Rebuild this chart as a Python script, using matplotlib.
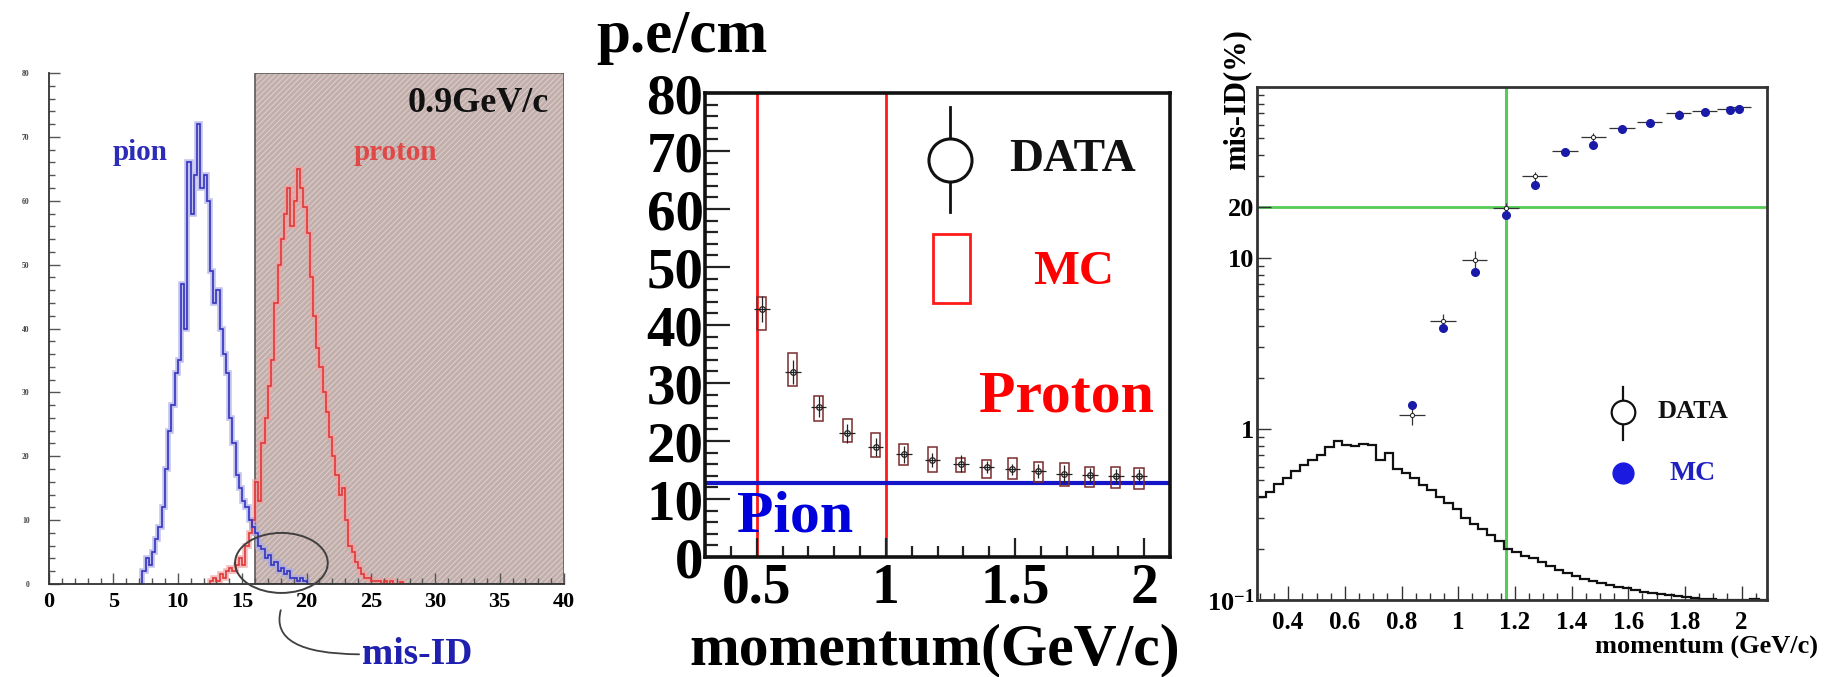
import numpy as np
import matplotlib
matplotlib.use('Agg')
from matplotlib import pyplot as plt
from matplotlib.patches import Ellipse
from matplotlib.ticker import MultipleLocator, FixedLocator, FuncFormatter, LogLocator, NullFormatter

plt.rcParams['font.family'] = ['Liberation Serif', 'DejaVu Serif']
plt.rcParams['font.weight'] = 'bold'
plt.rcParams['mathtext.fontset'] = 'custom'
plt.rcParams['mathtext.rm'] = 'Liberation Serif:bold'
plt.rcParams['mathtext.bf'] = 'Liberation Serif:bold'
plt.rcParams['hatch.linewidth'] = 0.7

# ---- left: photo-electron spectra at 0.9 GeV/c
pe_bin = 0.25
pion_start = 7.25
pion_counts = [2, 4, 3, 5, 7, 9, 12, 18, 24, 28,
               33, 35, 47, 40, 66, 58, 64, 72, 62, 64,
               60, 49, 44, 46, 40, 36, 33, 26, 22, 17,
               15, 13, 12, 10, 9, 8, 6, 5.5, 4, 4.5,
               3, 3.5, 2, 2.5, 1.5, 2, 1, 1, 0.5, 1,
               0.5, 0]
proton_start = 12.5
proton_counts = [0.5, 1, 0.5, 1.5, 1, 2, 2.5, 2, 3, 4,
                 3, 6, 8, 10, 16, 13, 22, 26, 31, 35,
                 44, 50, 54, 58, 62, 56, 60, 65, 62, 59,
                 55, 48, 42, 37, 34, 30, 27, 23, 20, 17,
                 14, 15, 10, 6, 5, 3.5, 2.5, 1.5, 1, 1,
                 0.5, 0.5, 0.5, 0, 0.5, 0, 0.5, 0, 0, 0.3]
pe_cut = 16

# ---- middle: light yield vs momentum
mom = [0.52, 0.64, 0.74, 0.85, 0.96, 1.07, 1.18, 1.29, 1.39, 1.49, 1.59, 1.69, 1.79, 1.89, 1.98]
data_pe = [42.8, 31.9, 25.9, 21.3, 19.0, 17.7, 16.8, 16.1, 15.5, 15.1, 14.8, 14.3, 14.1, 14.0, 13.9]
data_pe_err = [2.2, 2.0, 1.8, 1.6, 1.5, 1.5, 1.2, 1.5, 1.0, 1.0, 1.2, 1.5, 1.2, 1.2, 1.2]
mc_pe = [42.0, 32.3, 25.6, 21.8, 19.3, 17.6, 16.8, 15.8, 15.2, 15.2, 14.6, 14.2, 13.8, 13.7, 13.6]
mc_pe_err = [2.8, 2.9, 2.2, 2.0, 2.0, 1.8, 2.1, 1.2, 1.6, 1.8, 1.7, 2.0, 1.7, 1.8, 1.8]
pion_level = 12.7
mom_window = [0.5, 1.0]

# ---- right: mis-ID rate vs momentum
mis_mom = [0.837, 0.947, 1.058, 1.168, 1.270, 1.377, 1.477, 1.579, 1.676, 1.778, 1.870, 1.960, 1.990]
mis_mc = [1.38, 3.88, 8.3, 17.9, 26.9, 41.4, 45.7, 56.6, 61.9, 68.9, 71.5, 73.1, 74.8]
mis_data = [1.2, 4.3, 9.8, 19.5, 30.0, 42.0, 51.0, 57.5, 62.5, 70.5, 72.5, 74.5, 76.0]
mis_data_err = [0.15, 0.4, 1.2, 1.5, 2.0, 2.0, 2.5, 2.5, 2.5, 2.5, 2.5, 2.5, 2.5]
spec_start, spec_bin = 0.29, 0.03
spec_vals = [0.40, 0.43, 0.48, 0.52, 0.57, 0.62, 0.66, 0.70, 0.78, 0.85,
             0.81, 0.80, 0.82, 0.81, 0.66, 0.72, 0.58, 0.55, 0.52, 0.47,
             0.44, 0.40, 0.37, 0.34, 0.30, 0.28, 0.26, 0.24, 0.22, 0.20,
             0.19, 0.18, 0.175, 0.166, 0.158, 0.150, 0.143, 0.138, 0.133, 0.129,
             0.126, 0.122, 0.119, 0.117, 0.114, 0.112, 0.110, 0.108, 0.107, 0.105,
             0.104, 0.103, 0.102, 0.101, 0.1005, 0.1003, 0.1002, 0.1003, 0.101, 0.1005]
mom_cut = 1.168
misid_cut = 20

W, H = 1827, 677
fig = plt.figure(figsize=(W / 100, H / 100), dpi=100)


def box(l, t, r, b):
    return [l / W, 1 - b / H, (r - l) / W, (b - t) / H]


def fpos(x, y):
    return x / W, 1 - y / H


# ================= left panel
ax1 = fig.add_axes(box(49, 73, 564, 584))
ax1.set_xlim(0, 40)
ax1.set_ylim(0, 80)
ax1.axvspan(pe_cut, 40, facecolor='#c2afac', edgecolor='none', zorder=0)
ax1.axvspan(pe_cut, 40, facecolor='none', edgecolor='#ddd0ce', hatch='//////', lw=0, zorder=0.5)
ax1.axvspan(pe_cut, 40, fill=False, edgecolor='#6a6262', lw=1.3, zorder=0.6)

pion_edges = pion_start + pe_bin * np.arange(len(pion_counts) + 1)
proton_edges = proton_start + pe_bin * np.arange(len(proton_counts) + 1)
ax1.stairs(proton_counts, proton_edges, color='#f0a0a0', lw=4, alpha=0.7, zorder=1)
ax1.stairs(proton_counts, proton_edges, color='#e03838', lw=1.2, zorder=2)
ax1.stairs(pion_counts, pion_edges, color='#a8a8e4', lw=4, alpha=0.7, zorder=1)
ax1.stairs(pion_counts, pion_edges, color='#3434c0', lw=1.2, zorder=2)

ax1.text(7.1, 67.5, 'pion', color='#2c2cb8', fontsize=21, ha='center', va='center')
ax1.text(26.9, 67.5, 'proton', color='#e04848', fontsize=21, ha='center', va='center')
ax1.text(38.8, 75.3, '0.9GeV/c', color='#111111', fontsize=26, ha='right', va='center')

ax1.add_patch(Ellipse((18.05, 3.3), 7.2, 9.4, fill=False, edgecolor='#404040', lw=1.4,
                      clip_on=False, zorder=3))
ax1.annotate('mis-ID', xy=(18.0, -4.1), xytext=(24.3, -12.5), color='#2020b0', fontsize=27,
             ha='left', va='baseline', annotation_clip=False,
             arrowprops=dict(arrowstyle='-', color='#404040', lw=1.3, shrinkA=0, shrinkB=0,
                             relpos=(0, 0.5), connectionstyle='angle3,angleA=0,angleB=75'))

for s in ['top', 'right']:
    ax1.spines[s].set_visible(False)
for s in ['left', 'bottom']:
    ax1.spines[s].set_color('#333333')
    ax1.spines[s].set_linewidth(1.3)
ax1.xaxis.set_major_locator(MultipleLocator(5))
ax1.xaxis.set_minor_locator(MultipleLocator(1))
ax1.yaxis.set_major_locator(MultipleLocator(10))
ax1.yaxis.set_minor_locator(MultipleLocator(2))
ax1.tick_params(which='both', direction='in', color='#555555', width=1)
ax1.tick_params(which='major', length=8)
ax1.tick_params(which='minor', length=4)
ax1.tick_params(axis='x', labelsize=16, pad=6)
ax1.tick_params(axis='y', labelsize=5.5, labelcolor='#444444', pad=14)

# ================= middle panel
ax2 = fig.add_axes(box(705, 93, 1170, 557))
ax2.set_xlim(0.3, 2.1)
ax2.set_ylim(0, 80)
for v in mom_window:
    ax2.axvline(v, color='#ff1a1a', lw=2, zorder=1)
ax2.axhline(pion_level, color='#1414c8', lw=3, zorder=1)
ax2.bar(mom, [2 * e for e in mc_pe_err], bottom=[m - e for m, e in zip(mc_pe, mc_pe_err)],
        width=0.035, fill=False, edgecolor='#7a2c2c', lw=1.1, zorder=2)
ax2.errorbar(mom, data_pe, yerr=data_pe_err, xerr=0.03, fmt='o', ms=4, mfc='none',
             mec='#222222', mew=0.9, ecolor='#222222', elinewidth=0.9, capsize=0, zorder=3)

ax2.text(0.3 + (1066 - 705) / 258.3, (557 - 397) / 5.8, 'Proton', color='#ff0000',
         fontsize=43, ha='center', va='center')
ax2.text(0.3 + (795 - 705) / 258.3, (557 - 517) / 5.8, 'Pion', color='#0000dd',
         fontsize=43, ha='center', va='center')

# legend drawn by hand, as in the original
lx = (950 - 705) / 465
ax2.plot([lx, lx], [(557 - 107) / 464, (557 - 212) / 464], color='#111111', lw=2,
         transform=ax2.transAxes, zorder=4)
ax2.plot([lx], [(557 - 160) / 464], 'o', ms=31, mfc='white', mec='#111111', mew=2.2,
         transform=ax2.transAxes, zorder=5)
ax2.text((1009 - 705) / 465, (557 - 160) / 464, 'DATA', fontsize=34, color='#111111',
         ha='left', va='center', transform=ax2.transAxes)
ax2.bar([(951 - 705) / 465], [(303 - 234) / 464], bottom=(557 - 303) / 464, width=37 / 465,
        fill=False, edgecolor='#ff1a1a', lw=2, transform=ax2.transAxes)
ax2.text((1033 - 705) / 465, (557 - 272) / 464, 'MC', fontsize=35, color='#ff0000',
         ha='left', va='center', transform=ax2.transAxes)

for s in ax2.spines.values():
    s.set_linewidth(2.6)
    s.set_color('#111111')
ax2.xaxis.set_major_locator(FixedLocator([0.5, 1.0, 1.5, 2.0]))
ax2.xaxis.set_minor_locator(MultipleLocator(0.1))
ax2.xaxis.set_major_formatter(FuncFormatter(lambda v, p: '%g' % v))
ax2.yaxis.set_major_locator(MultipleLocator(10))
ax2.yaxis.set_minor_locator(MultipleLocator(2))
ax2.tick_params(which='both', direction='in', color='#222222', width=1.6, top=False, right=False)
ax2.tick_params(axis='y', which='major', length=18, labelsize=41, pad=1)
ax2.tick_params(axis='y', which='minor', length=9)
ax2.tick_params(axis='x', which='major', length=14, labelsize=40, pad=4)
ax2.tick_params(axis='x', which='minor', length=8)

fig.text(*fpos(682, 37), 'p.e/cm', fontsize=44, ha='center', va='center')
fig.text(*fpos(935, 650), 'momentum(GeV/c)', fontsize=43, ha='center', va='center')

# ================= right panel
ax3 = fig.add_axes(box(1257, 87, 1767, 600))
ax3.set_yscale('log')
ax3.set_xlim(0.29, 2.09)
ax3.set_ylim(0.1, 100)
spec_edges = spec_start + spec_bin * np.arange(len(spec_vals) + 1)
ax3.stairs(spec_vals, spec_edges, baseline=None, color='#111111', lw=1.6, zorder=2)
ax3.axvline(mom_cut, color='#55cc55', lw=2.2, zorder=1)
ax3.axhline(misid_cut, color='#55cc55', lw=2, zorder=1)
ax3.errorbar(mis_mom, mis_data, yerr=mis_data_err, xerr=0.045, fmt='o', ms=3, mfc='white',
             mec='#222222', mew=0.7, ecolor='#333333', elinewidth=0.9, capsize=0, zorder=3)
ax3.plot(mis_mom, mis_mc, 'o', color='#1a1aa8', ms=5.5, zorder=4)

lx3 = (1623 - 1257) / 510
ax3.plot([lx3, lx3], [(600 - 387) / 513, (600 - 440) / 513], color='#111111', lw=1.6,
         transform=ax3.transAxes, zorder=4)
ax3.plot([lx3], [(600 - 412) / 513], 'o', ms=17, mfc='white', mec='#111111', mew=1.6,
         transform=ax3.transAxes, zorder=5)
ax3.text((1658 - 1257) / 510, (600 - 412) / 513, 'DATA', fontsize=19, color='#111111',
         ha='left', va='center', transform=ax3.transAxes)
ax3.plot([lx3], [(600 - 473) / 513], 'o', ms=15, color='#1a1ae0', transform=ax3.transAxes)
ax3.text((1670 - 1257) / 510, (600 - 473) / 513, 'MC', fontsize=20, color='#2020c0',
         ha='left', va='center', transform=ax3.transAxes)

for s in ax3.spines.values():
    s.set_linewidth(2)
    s.set_color('#333333')
ax3.xaxis.set_major_locator(FixedLocator([0.4, 0.6, 0.8, 1.0, 1.2, 1.4, 1.6, 1.8, 2.0]))
ax3.xaxis.set_minor_locator(MultipleLocator(0.05))
ax3.xaxis.set_major_formatter(FuncFormatter(lambda v, p: '%g' % v))
ax3.yaxis.set_major_locator(FixedLocator([0.1, 1, 10, 20]))
ax3.yaxis.set_major_formatter(FuncFormatter(
    lambda v, p: r'$\mathbf{10^{-1}}$' if v < 0.5 else '%g' % v))
ax3.yaxis.set_minor_locator(LogLocator(base=10, subs=np.arange(2, 10)))
ax3.yaxis.set_minor_formatter(NullFormatter())
ax3.tick_params(which='both', direction='in', color='#333333', width=1, top=False, right=False)
ax3.tick_params(which='major', length=10)
ax3.tick_params(which='minor', length=5)
ax3.tick_params(axis='x', labelsize=18, pad=8)
ax3.tick_params(axis='y', labelsize=19, pad=2)

fig.text(*fpos(1237, 100), 'mis-ID(%)', fontsize=22, rotation=90, ha='center', va='center')
fig.text(*fpos(1818, 647), 'momentum (GeV/c)', fontsize=19, ha='right', va='center')

fig.savefig('out.png', dpi=100)
